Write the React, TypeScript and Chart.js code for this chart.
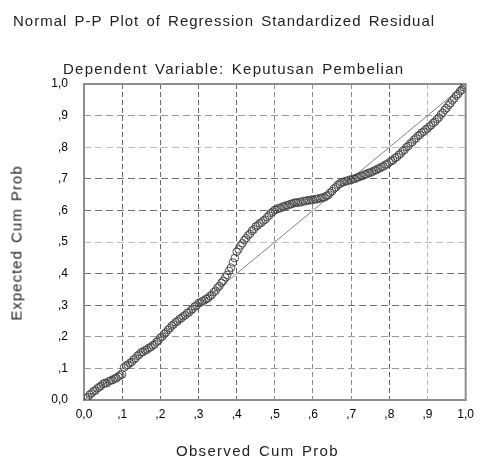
import React, { useEffect, useRef } from 'react';
import { Chart, registerables } from 'chart.js';

Chart.register(...registerables);

const titleText = 'Normal P-P Plot of Regression Standardized Residual';
const subtitleText = 'Dependent Variable: Keputusan Pembelian';
const xAxisTitle = 'Observed Cum Prob';
const yAxisTitle = 'Expected Cum Prob';

const tickLabels = ['0,0', ',1', ',2', ',3', ',4', ',5', ',6', ',7', ',8', ',9', '1,0'];

const observedCumProb = [
  0.005, 0.010, 0.015, 0.020, 0.025, 0.030, 0.035, 0.040, 0.045, 0.050,
  0.055, 0.060, 0.065, 0.070, 0.075, 0.080, 0.085, 0.090, 0.095, 0.100,
  0.105, 0.110, 0.115, 0.120, 0.125, 0.130, 0.135, 0.140, 0.145, 0.150,
  0.155, 0.160, 0.165, 0.170, 0.175, 0.180, 0.185, 0.190, 0.195, 0.200,
  0.205, 0.210, 0.215, 0.220, 0.225, 0.230, 0.235, 0.240, 0.245, 0.250,
  0.255, 0.260, 0.265, 0.270, 0.275, 0.280, 0.285, 0.290, 0.295, 0.300,
  0.305, 0.310, 0.315, 0.320, 0.325, 0.330, 0.335, 0.340, 0.345, 0.350,
  0.355, 0.360, 0.365, 0.370, 0.375, 0.380, 0.385, 0.390, 0.395, 0.400,
  0.405, 0.410, 0.415, 0.420, 0.425, 0.430, 0.435, 0.440, 0.445, 0.450,
  0.455, 0.460, 0.465, 0.470, 0.475, 0.480, 0.485, 0.490, 0.495, 0.500,
  0.505, 0.510, 0.515, 0.520, 0.525, 0.530, 0.535, 0.540, 0.545, 0.550,
  0.555, 0.560, 0.565, 0.570, 0.575, 0.580, 0.585, 0.590, 0.595, 0.600,
  0.605, 0.610, 0.615, 0.620, 0.625, 0.630, 0.635, 0.640, 0.645, 0.650,
  0.655, 0.660, 0.665, 0.670, 0.675, 0.680, 0.685, 0.690, 0.695, 0.700,
  0.705, 0.710, 0.715, 0.720, 0.725, 0.730, 0.735, 0.740, 0.745, 0.750,
  0.755, 0.760, 0.765, 0.770, 0.775, 0.780, 0.785, 0.790, 0.795, 0.800,
  0.805, 0.810, 0.815, 0.820, 0.825, 0.830, 0.835, 0.840, 0.845, 0.850,
  0.855, 0.860, 0.865, 0.870, 0.875, 0.880, 0.885, 0.890, 0.895, 0.900,
  0.905, 0.910, 0.915, 0.920, 0.925, 0.930, 0.935, 0.940, 0.945, 0.950,
  0.955, 0.960, 0.965, 0.970, 0.975, 0.980, 0.985, 0.990, 0.995, 1.000,
];

const expectedCumProb = [
  0.005, 0.009, 0.017, 0.021, 0.028, 0.030, 0.037, 0.041, 0.045, 0.051,
  0.054, 0.053, 0.059, 0.062, 0.063, 0.068, 0.069, 0.074, 0.078, 0.081,
  0.103, 0.109, 0.111, 0.117, 0.120, 0.128, 0.132, 0.140, 0.144, 0.151,
  0.152, 0.158, 0.159, 0.165, 0.167, 0.173, 0.176, 0.184, 0.188, 0.197,
  0.201, 0.209, 0.214, 0.222, 0.227, 0.235, 0.239, 0.246, 0.249, 0.256,
  0.259, 0.265, 0.268, 0.275, 0.277, 0.284, 0.288, 0.296, 0.299, 0.307,
  0.308, 0.313, 0.315, 0.320, 0.322, 0.329, 0.333, 0.341, 0.346, 0.356,
  0.361, 0.371, 0.377, 0.388, 0.396, 0.409, 0.419, 0.435, 0.449, 0.469,
  0.477, 0.489, 0.496, 0.506, 0.512, 0.521, 0.526, 0.535, 0.540, 0.549,
  0.552, 0.559, 0.561, 0.568, 0.571, 0.579, 0.584, 0.592, 0.596, 0.602,
  0.603, 0.607, 0.607, 0.612, 0.612, 0.616, 0.616, 0.620, 0.620, 0.624,
  0.625, 0.624, 0.627, 0.626, 0.630, 0.629, 0.632, 0.631, 0.634, 0.633,
  0.636, 0.635, 0.638, 0.638, 0.641, 0.641, 0.646, 0.648, 0.656, 0.661,
  0.669, 0.673, 0.681, 0.684, 0.689, 0.689, 0.693, 0.693, 0.697, 0.696,
  0.700, 0.700, 0.704, 0.705, 0.709, 0.709, 0.714, 0.714, 0.719, 0.719,
  0.722, 0.726, 0.727, 0.732, 0.733, 0.738, 0.739, 0.745, 0.746, 0.752,
  0.756, 0.759, 0.766, 0.769, 0.776, 0.780, 0.788, 0.792, 0.800, 0.804,
  0.812, 0.816, 0.824, 0.828, 0.836, 0.839, 0.846, 0.849, 0.856, 0.859,
  0.866, 0.870, 0.877, 0.881, 0.889, 0.894, 0.903, 0.909, 0.918, 0.924,
  0.933, 0.939, 0.948, 0.954, 0.963, 0.968, 0.977, 0.982, 0.990, 0.996,
];

const diagonalX = [0, 1];
const diagonalY = [0, 1];

const boxPlugin = {
  id: 'plotBox',
  beforeDatasetsDraw(chart: any) {
    const { ctx, chartArea } = chart;
    const { left, top, right, bottom } = chartArea;
    ctx.save();
    ctx.strokeStyle = '#8e8e8e';
    ctx.lineWidth = 2;
    ctx.strokeRect(left, top, right - left, bottom - top);
    ctx.restore();
  },
};

const textStyle: React.CSSProperties = {
  position: 'absolute',
  fontFamily: '"Liberation Sans", Arial, sans-serif',
  fontSize: '15px',
  lineHeight: '15px',
  letterSpacing: '1px',
  wordSpacing: '2px',
  whiteSpace: 'nowrap',
  color: '#222',
};

export default function App() {
  const canvasRef = useRef<HTMLCanvasElement | null>(null);

  useEffect(() => {
    document.body.style.margin = '0';
    const canvas = canvasRef.current;
    if (!canvas) return;

    const points = observedCumProb.map((x, i) => ({ x, y: expectedCumProb[i] }));
    const diag = diagonalX.map((x, i) => ({ x, y: diagonalY[i] }));

    const yGridShade = (v: number) => {
      const k = Math.round(v * 10);
      if (k === 5 || k === 8) return '#bdbdbd';
      if (k === 9 || k === 1 || k === 2) return '#9a9a9a';
      return '#6e6e6e';
    };
    const xGridShade = (v: number) => {
      const k = Math.round(v * 10);
      if (k === 9) return '#b5b5b5';
      if (k === 5 || k === 6 || k === 7) return '#8a8a8a';
      return '#666666';
    };

    const chart = new Chart(canvas, {
      type: 'scatter',
      data: {
        datasets: [
          {
            type: 'line',
            data: diag,
            borderColor: '#808080',
            borderWidth: 1,
            pointRadius: 0,
            fill: false,
            order: 2,
          } as any,
          {
            type: 'scatter',
            data: points,
            pointStyle: 'circle',
            pointRadius: 3.8,
            borderWidth: 0.9,
            borderColor: '#404040',
            backgroundColor: 'rgba(255,255,255,0)',
            order: 1,
          },
        ],
      },
      options: {
        responsive: false,
        animation: false,
        layout: { padding: { top: 84, right: 10, left: 0, bottom: 0 } },
        plugins: {
          legend: { display: false },
          tooltip: { enabled: false },
          title: { display: false },
        },
        scales: {
          x: {
            type: 'linear',
            min: 0,
            max: 1,
            afterFit: (scale: any) => {
              scale.height = 65;
            },
            ticks: {
              stepSize: 0.1,
              padding: 7,
              color: '#000',
              font: { family: '"Liberation Sans", Arial, sans-serif', size: 12 },
              callback: (v: any) => tickLabels[Math.round(Number(v) * 10)],
              maxRotation: 0,
            },
            grid: {
              drawTicks: false,
              lineWidth: 1,
              color: (ctx: any) => xGridShade(ctx.tick ? ctx.tick.value : 0),
            },
            border: { display: false, dash: [5, 3] },
          },
          y: {
            type: 'linear',
            min: 0,
            max: 1,
            afterFit: (scale: any) => {
              scale.width = 84;
            },
            ticks: {
              stepSize: 0.1,
              padding: 16,
              color: '#000',
              font: { family: '"Liberation Sans", Arial, sans-serif', size: 12 },
              callback: (v: any) => tickLabels[Math.round(Number(v) * 10)],
            },
            grid: {
              drawTicks: false,
              lineWidth: 1,
              color: (ctx: any) => yGridShade(ctx.tick ? ctx.tick.value : 0),
            },
            border: { display: false, dash: [7, 4] },
          },
        },
      },
      plugins: [boxPlugin],
    });

    return () => {
      chart.destroy();
    };
  }, []);

  return (
    <div style={{ position: 'relative', width: 481, height: 465, background: '#fff' }}>
      <canvas ref={canvasRef} width={481} height={465} style={{ display: 'block' }} />
      <div style={{ ...textStyle, left: 13, top: 13 }}>{titleText}</div>
      <div style={{ ...textStyle, left: 63, top: 61, letterSpacing: '1.25px' }}>{subtitleText}</div>
      <div style={{ ...textStyle, left: 176, top: 443, letterSpacing: '1.3px' }}>{xAxisTitle}</div>
      <div
        style={{
          ...textStyle,
          left: 16,
          top: 243,
          transform: 'translate(-50%, -50%) rotate(-90deg)',
        }}
      >
        {yAxisTitle}
      </div>
    </div>
  );
}
